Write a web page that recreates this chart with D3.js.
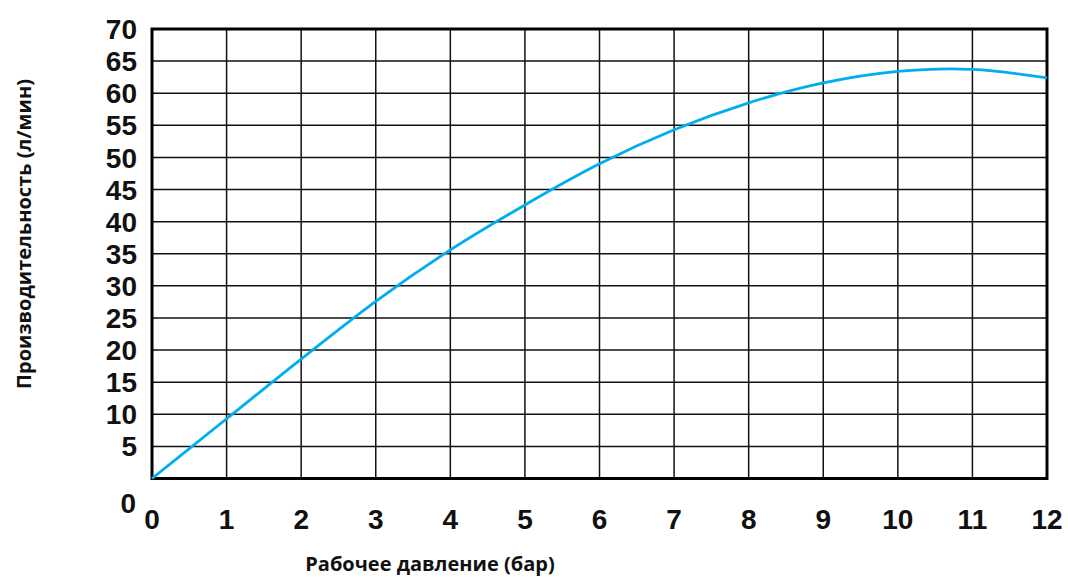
<!DOCTYPE html>
<html>
<head>
<meta charset="utf-8">
<script src="https://cdn.jsdelivr.net/npm/d3@7"></script>
<style>
  html, body { margin: 0; padding: 0; background: #fff; }
  svg { display: block; }
</style>
</head>
<body>
<svg id="chart" width="1068" height="578"></svg>
<script>
// Pump performance curve: flow rate versus working pressure
const pressure = [0, 1, 2, 3, 4, 5, 6, 7, 8, 9, 10, 10.7, 11, 12];
const flow     = [0, 9.3, 18.6, 27.6, 35.6, 42.6, 49.0, 54.3, 58.5, 61.6, 63.4, 63.8, 63.7, 62.4];

const xTicks = [0, 1, 2, 3, 4, 5, 6, 7, 8, 9, 10, 11, 12];
const yTicks = [5, 10, 15, 20, 25, 30, 35, 40, 45, 50, 55, 60, 65, 70];

const xTitle = "Рабочее давление (бар)";
const yTitle = "Производительность (л/мин)";

const svg = d3.select("#chart");
const plotLeft = 152, plotRight = 1047, plotTop = 29, plotBottom = 478.5;

const x = d3.scaleLinear().domain([0, 12]).range([plotLeft, plotRight]);
const y = d3.scaleLinear().domain([0, 70]).range([plotBottom, plotTop]);

// grid
const grid = svg.append("g");
grid.selectAll("line.v").data(xTicks.slice(1, -1)).join("line")
  .attr("class", "v")
  .attr("x1", d => x(d)).attr("x2", d => x(d))
  .attr("y1", plotTop).attr("y2", plotBottom)
  .attr("stroke", "#111").attr("stroke-width", 1.5);
grid.selectAll("line.h").data(yTicks.slice(0, -1)).join("line")
  .attr("class", "h")
  .attr("x1", plotLeft).attr("x2", plotRight)
  .attr("y1", d => y(d)).attr("y2", d => y(d))
  .attr("stroke", "#111").attr("stroke-width", 1.5);

// frame
svg.append("rect")
  .attr("x", plotLeft).attr("y", plotTop)
  .attr("width", plotRight - plotLeft).attr("height", plotBottom - plotTop)
  .attr("fill", "none").attr("stroke", "#000").attr("stroke-width", 3);

// curve
const line = d3.line()
  .x((d, i) => x(pressure[i]))
  .y(d => y(d))
  .curve(d3.curveMonotoneX);
svg.append("path")
  .datum(flow)
  .attr("d", line)
  .attr("fill", "none")
  .attr("stroke", "#00aeef")
  .attr("stroke-width", 2.8);

// tick labels
const tickFont = "'Liberation Sans', Arial, sans-serif";
svg.append("g").selectAll("text").data(yTicks).join("text")
  .attr("x", 137).attr("y", d => y(d))
  .attr("dy", "0.36em")
  .attr("text-anchor", "end")
  .attr("font-family", tickFont).attr("font-weight", "bold")
  .attr("font-size", 28).attr("fill", "#111")
  .text(d => d);
svg.append("text")
  .attr("x", 136).attr("y", 503).attr("dy", "0.36em")
  .attr("text-anchor", "end")
  .attr("font-family", tickFont).attr("font-weight", "bold")
  .attr("font-size", 28).attr("fill", "#111")
  .text("0");
svg.append("g").selectAll("text").data(xTicks).join("text")
  .attr("x", d => x(d)).attr("y", 519)
  .attr("dy", "0.36em")
  .attr("text-anchor", "middle")
  .attr("font-family", tickFont).attr("font-weight", "bold")
  .attr("font-size", 28).attr("fill", "#111")
  .text(d => d);

// axis titles
svg.append("text")
  .attr("x", 430).attr("y", 571)
  .attr("text-anchor", "middle")
  .attr("font-family", "'Open Sans', sans-serif").attr("font-weight", "bold")
  .attr("font-size", 20).attr("fill", "#111")
  .text(xTitle);
svg.append("text")
  .attr("transform", "translate(31,234) rotate(-90)")
  .attr("text-anchor", "middle")
  .attr("font-family", "'Open Sans', sans-serif").attr("font-weight", "bold")
  .attr("font-size", 20).attr("fill", "#111")
  .text(yTitle);
</script>
</body>
</html>
